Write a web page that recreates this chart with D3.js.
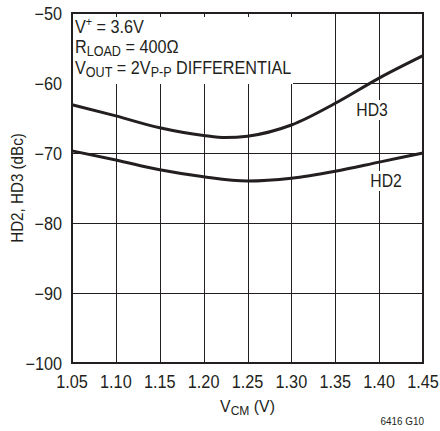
<!DOCTYPE html>
<html>
<head>
<meta charset="utf-8">
<script src="https://cdn.jsdelivr.net/npm/d3@7"></script>
<style>
  body { margin: 0; background: #fff; }
  svg text { font-family: "Liberation Sans", Arial, sans-serif; fill: #231f20; }
</style>
</head>
<body>
<svg id="chart" width="440" height="431"></svg>
<script>
// V_CM sweep (V) and distortion (dBc)
var hd3X = [1.05, 1.10, 1.15, 1.20, 1.225, 1.25, 1.30, 1.35, 1.40, 1.45]
var hd3Y = [-63.1, -64.7, -66.4, -67.5, -67.8, -67.6, -66.0, -62.9, -59.3, -56.1]
var hd2X = [1.05, 1.10, 1.15, 1.20, 1.25, 1.30, 1.35, 1.40, 1.45]
var hd2Y = [-69.7, -71.0, -72.4, -73.4, -74.0, -73.6, -72.6, -71.3, -70.0]

var xTicks = [1.05, 1.10, 1.15, 1.20, 1.25, 1.30, 1.35, 1.40, 1.45]
var yTicks = [-100, -90, -80, -70, -60, -50]

var ink = '#231f20'

var svg = d3.select("svg#chart")

var x = d3.scaleLinear().domain([1.05, 1.45]).range([72, 423])
var y = d3.scaleLinear().domain([-100, -50]).range([363, 13])

// text squeezed sideways a little, the original uses a narrow face
function label(parent, px, py, size, sx, anchor) {
    return parent.append("text")
        .attr("transform", "translate(" + px + "," + py + ") scale(" + sx + ",1)")
        .attr("text-anchor", anchor || "start")
        .style("font-size", size + "px")
}

var grid = svg.append("g").attr("stroke", ink).attr("stroke-width", 1).attr("shape-rendering", "crispEdges")

grid.selectAll(".vline").data(xTicks.slice(1, -1)).enter().append("line")
    .attr("x1", d => Math.round(x(d)) + 0.5).attr("x2", d => Math.round(x(d)) + 0.5)
    .attr("y1", y(-50)).attr("y2", y(-100))

grid.selectAll(".hline").data(yTicks.slice(1, -1)).enter().append("line")
    .attr("x1", x(1.05)).attr("x2", x(1.45))
    .attr("y1", d => Math.round(y(d)) + 0.5).attr("y2", d => Math.round(y(d)) + 0.5)

// white box behind the conditions text hides the grid
svg.append("rect").attr("x", x(1.05) + 1).attr("y", 17).attr("width", 220).attr("height", 67).attr("fill", "#fff")

var line = d3.line().x(d => x(d[0])).y(d => y(d[1])).curve(d3.curveMonotoneX)

svg.append("path").datum(d3.zip(hd3X, hd3Y)).attr("d", line)
    .attr("fill", "none").attr("stroke", ink).attr("stroke-width", 3)
svg.append("path").datum(d3.zip(hd2X, hd2Y)).attr("d", line)
    .attr("fill", "none").attr("stroke", ink).attr("stroke-width", 3)

// frame
svg.append("rect").attr("x", x(1.05)).attr("y", y(-50))
    .attr("width", x(1.45) - x(1.05)).attr("height", y(-100) - y(-50))
    .attr("fill", "none").attr("stroke", ink).attr("stroke-width", 2)

// curve labels with white backing
function curveLabel(txt, cx, base) {
    svg.append("rect").attr("x", cx - 18).attr("y", base - 16).attr("width", 36).attr("height", 20).attr("fill", "#fff")
    label(svg, cx, base, 17.5, 0.9, "middle").text(txt)
}
curveLabel("HD3", 372, 116)
curveLabel("HD2", 386, 187)

// axes tick labels
yTicks.forEach(function (d) {
    label(svg, 62, y(d) + 7, 17.5, 0.93, "end").text(d3.format("d")(d).replace("-", "\u2013"))
})

xTicks.forEach(function (d) {
    label(svg, x(d), 388, 17.5, 0.93, "middle").text(d.toFixed(2))
})

svg.append("text").attr("transform", "translate(23," + ((y(-50) + y(-100)) / 2) + ") rotate(-90) scale(0.92,1)")
    .attr("text-anchor", "middle").style("font-size", "16.5px").text("HD2, HD3 (dBc)")

var xl = label(svg, x(1.25), 412, 17, 0.93, "middle")
xl.append("tspan").text("V")
xl.append("tspan").attr("dy", 3).style("font-size", "13px").text("CM")
xl.append("tspan").attr("dy", -3).text(" (V)")

label(svg, 424, 425, 11, 0.9, "end").text("6416 G10")

// conditions
var t1 = label(svg, 75, 33, 18, 0.9)
t1.append("tspan").text("V")
t1.append("tspan").attr("dy", -7).style("font-size", "12px").text("+")
t1.append("tspan").attr("dy", 7).text(" = 3.6V")

var t2 = label(svg, 75, 53, 18, 0.9)
t2.append("tspan").text("R")
t2.append("tspan").attr("dy", 3).style("font-size", "14px").text("LOAD")
t2.append("tspan").attr("dy", -3).text(" = 400\u03a9")

var t3 = label(svg, 75, 74, 18, 0.9)
t3.append("tspan").text("V")
t3.append("tspan").attr("dy", 3).style("font-size", "14px").text("OUT")
t3.append("tspan").attr("dy", -3).text(" = 2V")
t3.append("tspan").attr("dy", 3).style("font-size", "14px").text("P-P")
t3.append("tspan").attr("dy", -3).text(" DIFFERENTIAL")
</script>
</body>
</html>
